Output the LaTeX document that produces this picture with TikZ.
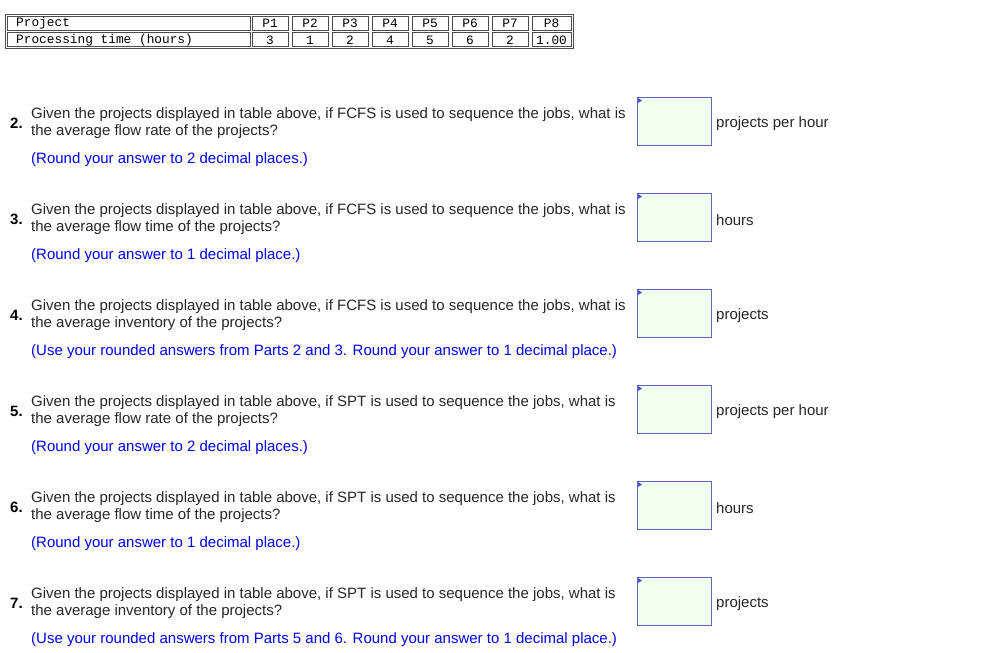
\documentclass[tikz,border=0pt]{standalone}
\usepackage{fontspec}
\setmainfont{Liberation Sans}
\newfontfamily\mono{Liberation Mono}
\begin{document}
\begin{tikzpicture}[x=1pt,y=-1pt,
 cell/.style={draw=black!70,line width=0.8pt},
 tt/.style={font=\mono\fontsize{12.8}{14}\selectfont,inner sep=0pt},
 q/.style={font=\fontsize{15}{17}\selectfont,anchor=west,inner sep=0pt,text=black!85},
 blue/.style={q,text=blue},
 num/.style={font=\bfseries\fontsize{15}{17}\selectfont,anchor=west,inner sep=0pt},
 ans/.style={draw=blue!55!black!60,fill=green!6,line width=0.8pt}]
\useasboundingbox (0,0) rectangle (1004,653);
\draw[cell] (5,14) rectangle (573,48);
\foreach \r/\ya/\yb in {0/16/30,1/32/46}{
 \draw[cell] (7,\ya) rectangle (250,\yb);
 \foreach \i in {0,...,6}{\draw[cell] (252+40*\i,\ya) rectangle (288+40*\i,\yb);}
 \draw[cell] (532,\ya) rectangle (571,\yb);
}
\node[tt,anchor=west] (h0) at (16,23.5) {Project};
\node[tt,anchor=west] (h1) at (16,40.5) {Processing time (hours)};
\foreach \t [count=\i from 0] in {P1,P2,P3,P4,P5,P6,P7}{\node[tt] (p\i) at (270+40*\i,23.5) {\t};}
\node[tt] (p7) at (551.5,23.5) {P8};
\foreach \t [count=\i from 0] in {3,1,2,4,5,6,2}{\node[tt] (v\i) at (270+40*\i,40.5) {\t};}
\node[tt] (v7) at (551.5,40.5) {1.00};
\foreach \n/\rule/\what/\unit/\note [count=\k from 0] in {
 2/FCFS/flow rate/projects per hour/{(Round your answer to 2 decimal places.)},
 3/FCFS/flow time/hours/{(Round your answer to 1 decimal place.)},
 4/FCFS/inventory/projects/{(Use your rounded answers from Parts 2 and 3. Round your answer to 1 decimal place.)},
 5/SPT/flow rate/projects per hour/{(Round your answer to 2 decimal places.)},
 6/SPT/flow time/hours/{(Round your answer to 1 decimal place.)},
 7/SPT/inventory/projects/{(Use your rounded answers from Parts 5 and 6. Round your answer to 1 decimal place.)}}{
 \pgfmathsetmacro{\yy}{96*\k}
 \begin{scope}[yshift=-\yy pt]
 \node[num] (n\k) at (10,123) {\n.};
 \node[q] (a\k) at (31,115) {Given the projects displayed in table above, if \rule\ is used to sequence the jobs, what is};
 \node[q] (b\k) at (31,132) {the average \what\ of the projects?};
 \node[blue] (c\k) at (31,160) {\note};
 \draw[ans] (637,97) rectangle (711,145);
 \fill[blue!70] (638,98) -- (642,100.5) -- (638,103) -- cycle;
 \node[q] (u\k) at (716,124) {\unit};
 \end{scope}
}
\end{tikzpicture}
\end{document}
